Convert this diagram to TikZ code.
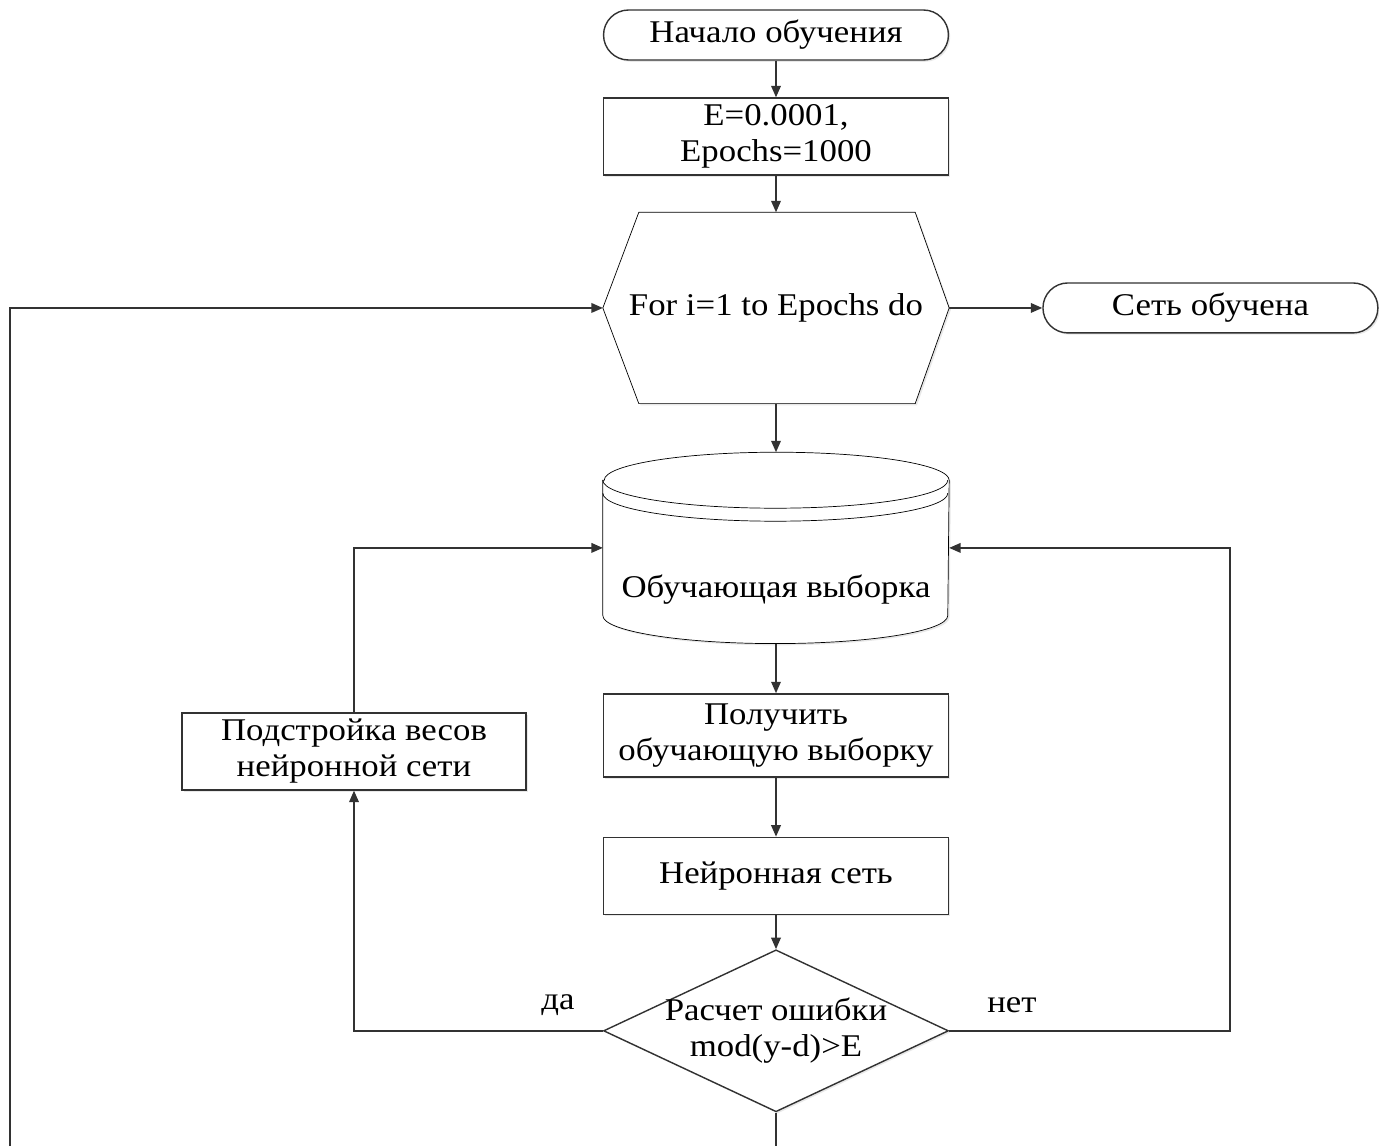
\documentclass[tikz,border=0pt]{standalone}
\usepackage{fontspec}
\setmainfont{Liberation Serif}[FakeStretch=1.1]
\usetikzlibrary{positioning, arrows.meta, calc, shadows, shapes.geometric, backgrounds}
\definecolor{cL}{RGB}{50,50,50}

\begin{document}
\begin{tikzpicture}[x=0.02cm, y=0.02cm, on grid, line width=0.8pt, draw=cL,
                    every node/.style={font=\fontsize{18}{20.5}\selectfont, text=black},
                    softshadow/.style={drop shadow={shadow xshift=1pt, shadow yshift=-1pt, opacity=0.18}},
                    term/.style={draw=cL, rounded corners=0.5cm, minimum width=6.9cm, minimum height=1cm, fill=white, softshadow},
                    proc/.style={draw=cL, rectangle, minimum width=6.9cm, minimum height=1.54cm, fill=white, align=center, softshadow},
                    hexbox/.style={rectangle, minimum width=6.9cm, minimum height=3.8cm},
                    dbase/.style={rectangle, minimum width=6.9cm, minimum height=3.8cm},
                    decide/.style={draw=cL, diamond, aspect=2.13, minimum width=6.9cm, minimum height=3.24cm,
                                   inner xsep=-0.35cm, inner ysep=-0.1cm, align=center, fill=white, softshadow},
                    flow/.style={draw=cL, -{Triangle[length=6.5pt, width=5.5pt]}}]

    \useasboundingbox (0,0) rectangle (1379,-1146);

    % Nodes
    \node[term] (start) at (776,-35) {Начало обучения};
    \node[proc] (init) [below=2.03cm of start] {E=0.0001,\\Epochs=1000};
    \node[hexbox] (loop) [below=3.43cm of init] {For i=1 to Epochs do};
    \node[term, minimum width=6.7cm] (done) [right=8.69cm of loop] {Сеть обучена};
    \node[dbase] (data) [below=4.8cm of loop] {};
    \node (dbtext) [below=0.84cm of data] {Обучающая выборка};
    \node[proc, minimum height=1.66cm] (fetch) [below=3.75cm of data] {Получить\\обучающую выборку};
    \node[proc] (net) [below=2.81cm of fetch] {Нейронная сеть};
    \node[decide] (check) [below=3.1cm of net] {Расчет ошибки\\mod(y-d)>E};
    \node[proc, minimum width=6.88cm] (adjust) at (354,-751.5) {Подстройка весов\\нейронной сети};
    \node (yes) at (558,-1005) {да};
    \node (no) at (1012,-1005) {нет};
    \coordinate (exitlow) at (776,-1146);
    \coordinate (backlow) at (10,-1146);

    % Shapes drawn by hand
    \begin{scope}[on background layer]
        \draw[fill=white, softshadow] (loop.west) -- ([xshift=0.72cm]loop.north west) -- ([xshift=-0.68cm]loop.north east)
            -- (loop.east) -- ([xshift=-0.68cm]loop.south east) -- ([xshift=0.72cm]loop.south west) -- cycle;
        \draw[fill=white, softshadow] ([yshift=-0.56cm]data.north west) -- ([yshift=0.56cm]data.south west)
            arc[start angle=180, end angle=360, x radius=3.45cm, y radius=0.56cm]
            -- ([yshift=-0.56cm]data.north east)
            arc[start angle=0, end angle=180, x radius=3.45cm, y radius=0.56cm] -- cycle;
        \draw ([yshift=-0.56cm]data.north west) arc[start angle=180, end angle=360, x radius=3.45cm, y radius=0.56cm];
        \draw ([yshift=-0.82cm]data.north west) arc[start angle=180, end angle=360, x radius=3.45cm, y radius=0.56cm];
    \end{scope}

    % Edges
    \draw[flow] (start) -- (init);
    \draw[flow] (init) -- (loop);
    \draw[flow] (loop) -- (done);
    \draw[flow] (loop) -- (data);
    \draw[flow] (data) -- (fetch);
    \draw[flow] (fetch) -- (net);
    \draw[flow] (net) -- (check);
    \draw[flow] (check.west) -| (adjust.south);
    \draw[flow] (adjust.north) |- (data.west);
    \draw[flow] (check.east) -- ++(5.62cm,0) |- (data.east);
    \draw (check.south) -- (exitlow);
    \draw[flow] (backlow) |- (loop.west);

\end{tikzpicture}
\end{document}
